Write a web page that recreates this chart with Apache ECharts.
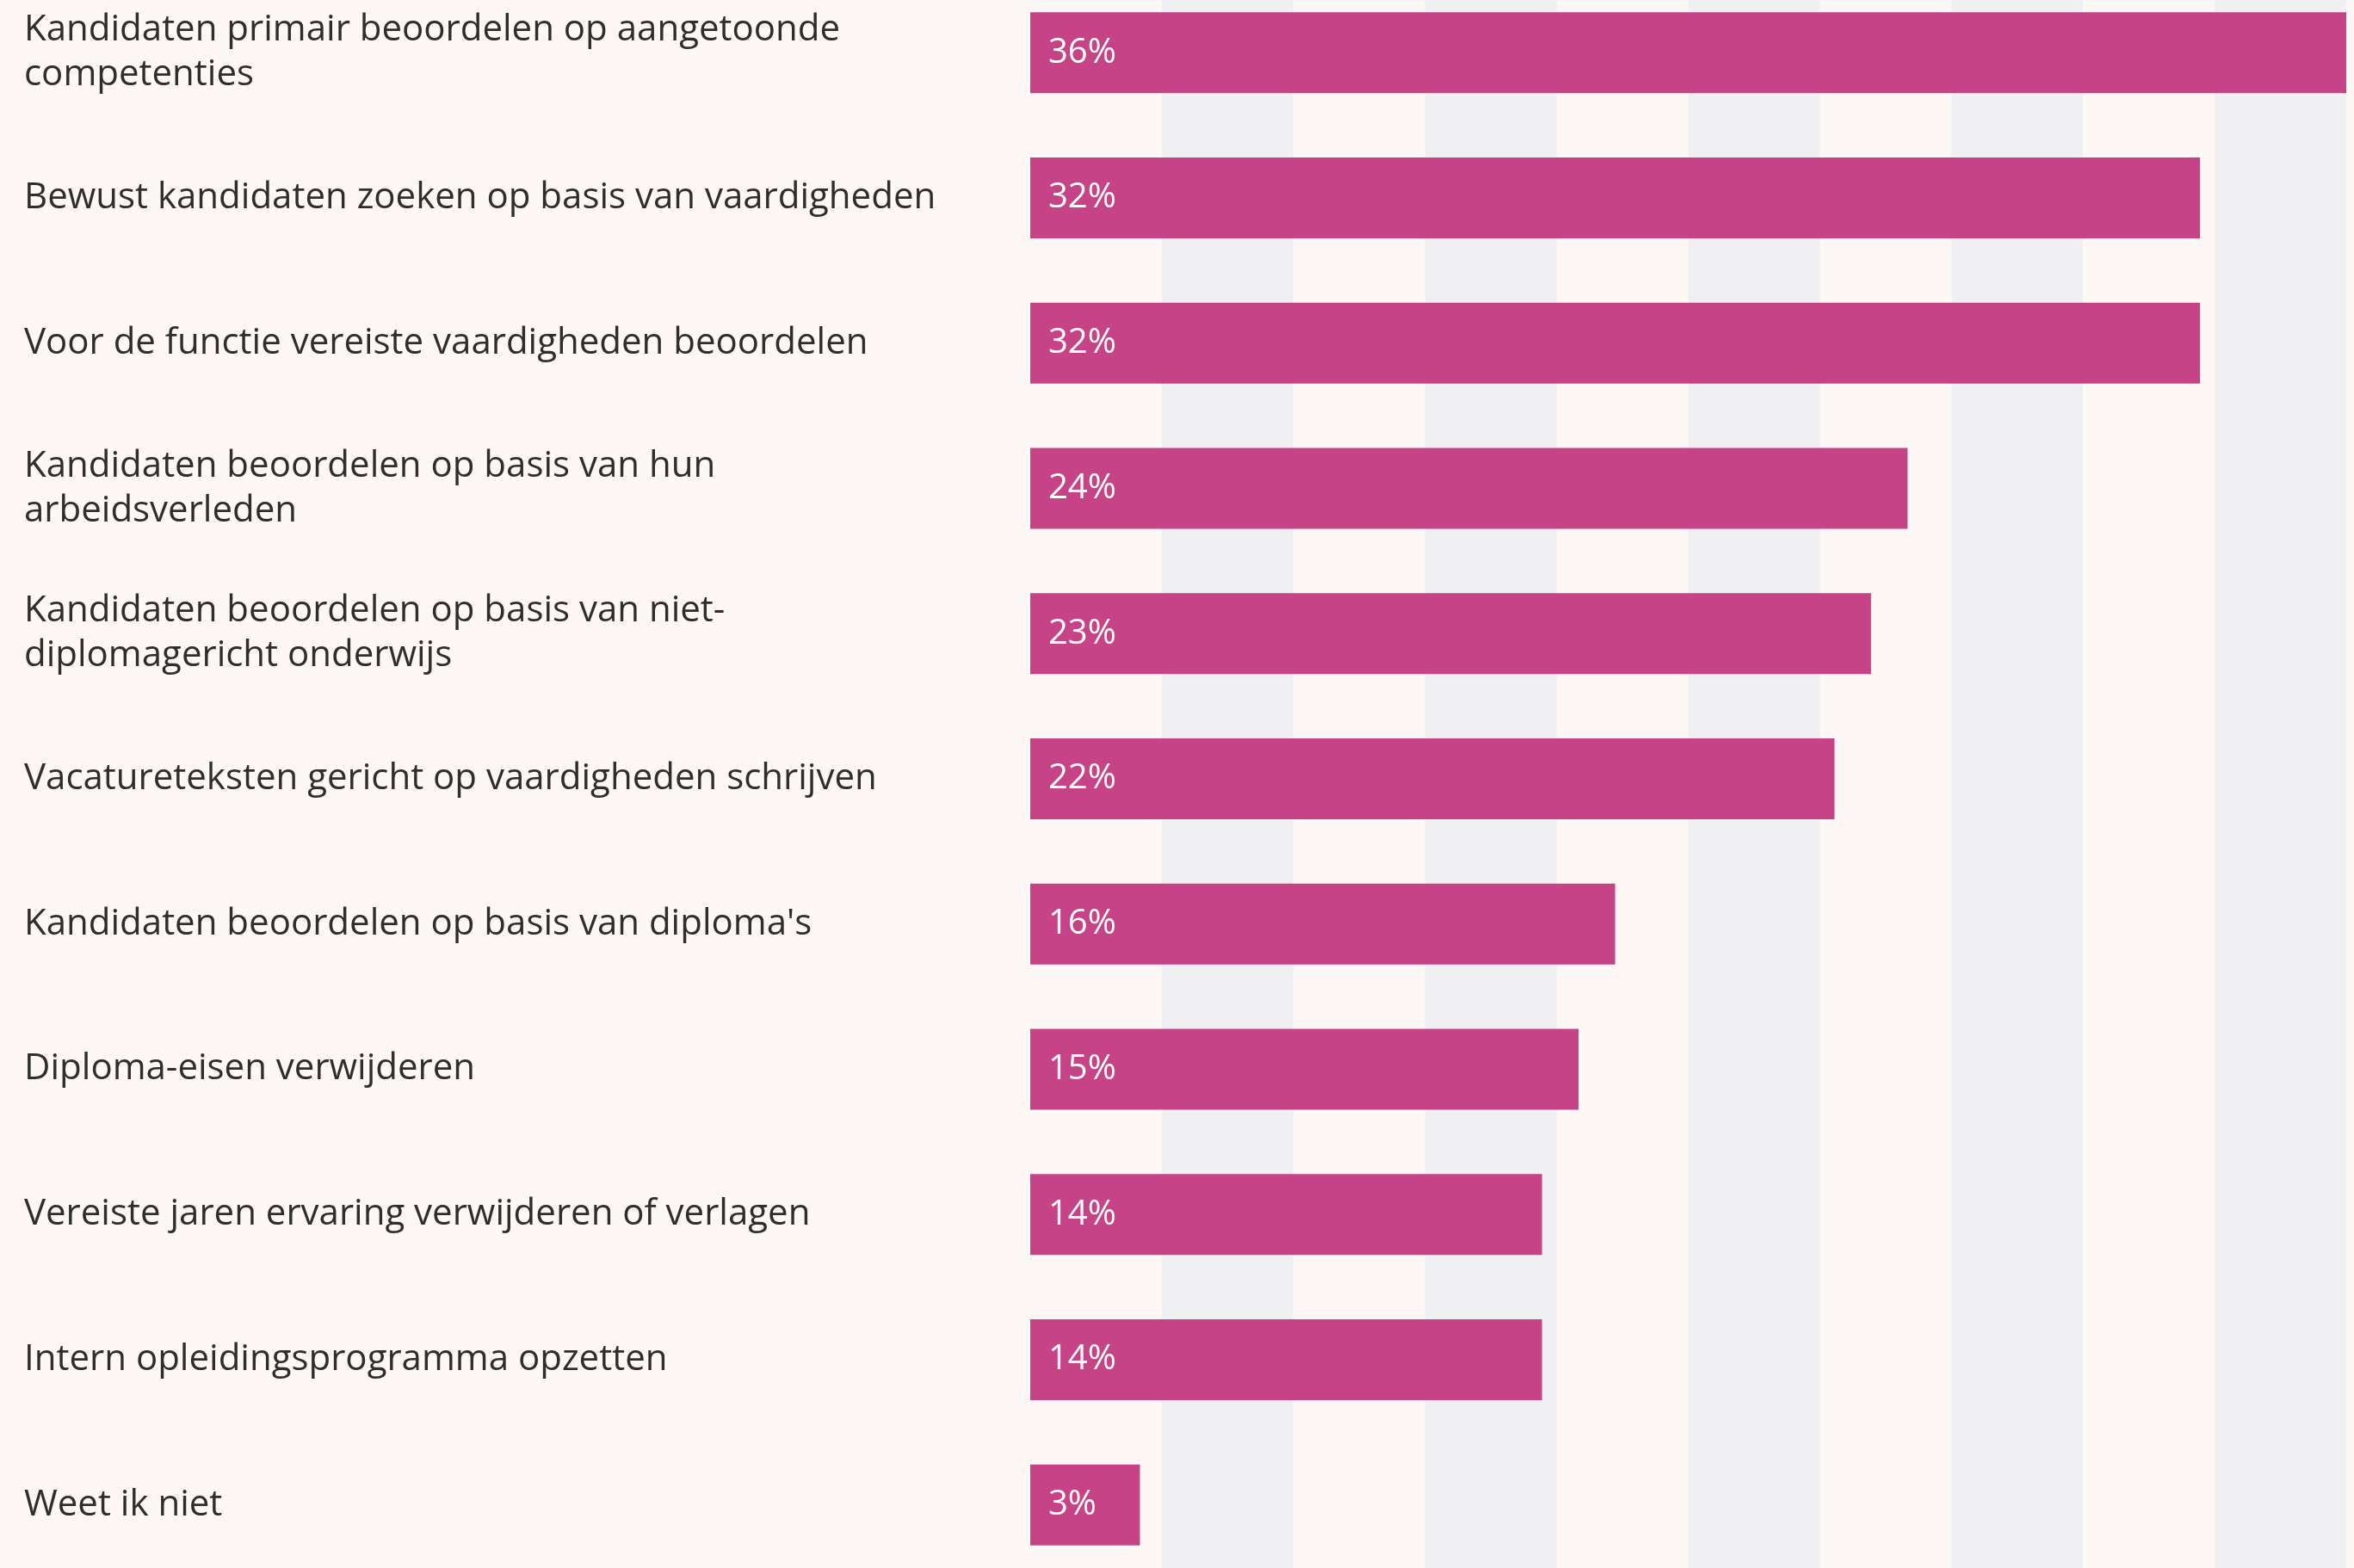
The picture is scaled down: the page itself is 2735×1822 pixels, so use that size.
<!DOCTYPE html>
<html>
<head>
<meta charset="utf-8">
<script src="https://cdn.jsdelivr.net/npm/echarts@6/dist/echarts.min.js"></script>
<style>
html,body{margin:0;padding:0;background:#fdf8f5;}
#chart{width:2735px;height:1822px;}
</style>
</head>
<body>
<div id="chart"></div>
<script>
const categories = [
  "Kandidaten primair beoordelen op aangetoonde\ncompetenties",
  "Bewust kandidaten zoeken op basis van vaardigheden",
  "Voor de functie vereiste vaardigheden beoordelen",
  "Kandidaten beoordelen op basis van hun\narbeidsverleden",
  "Kandidaten beoordelen op basis van niet-\ndiplomagericht onderwijs",
  "Vacatureteksten gericht op vaardigheden schrijven",
  "Kandidaten beoordelen op basis van diploma's",
  "Diploma-eisen verwijderen",
  "Vereiste jaren ervaring verwijderen of verlagen",
  "Intern opleidingsprogramma opzetten",
  "Weet ik niet"
];
const values = [36, 32, 32, 24, 23, 22, 16, 15, 14, 14, 3];

const chart = echarts.init(document.getElementById('chart'), null, {renderer: 'canvas'});
chart.setOption({
  backgroundColor: '#fdf8f5',
  animation: false,
  grid: {left: 1197, right: 9, top: -23, height: 1856, containLabel: false, outerBoundsMode: 'none'},
  xAxis: {
    type: 'value', min: 0, max: 36, interval: 3.6,
    axisLine: {show: false}, axisTick: {show: false}, axisLabel: {show: false},
    splitLine: {show: false},
    splitArea: {show: true, areaStyle: {color: ['rgba(0,0,0,0)', '#f0eff2']}}
  },
  yAxis: {
    type: 'category', inverse: true, data: categories,
    axisLine: {show: false}, axisTick: {show: false},
    axisLabel: {
      align: 'left', margin: 1169, padding: [6, 0, 0, 0],
      fontFamily: 'Open Sans', fontSize: 42, lineHeight: 52, color: '#2e2e2e'
    }
  },
  series: [{
    type: 'bar', data: values, barWidth: 94,
    itemStyle: {color: '#c64387'},
    label: {
      show: true, position: 'insideLeft', distance: 21, padding: [6, 0, 0, 0],
      formatter: '{c}%', color: '#ffffff', fontFamily: 'Open Sans', fontSize: 40
    }
  }]
});
</script>
</body>
</html>
